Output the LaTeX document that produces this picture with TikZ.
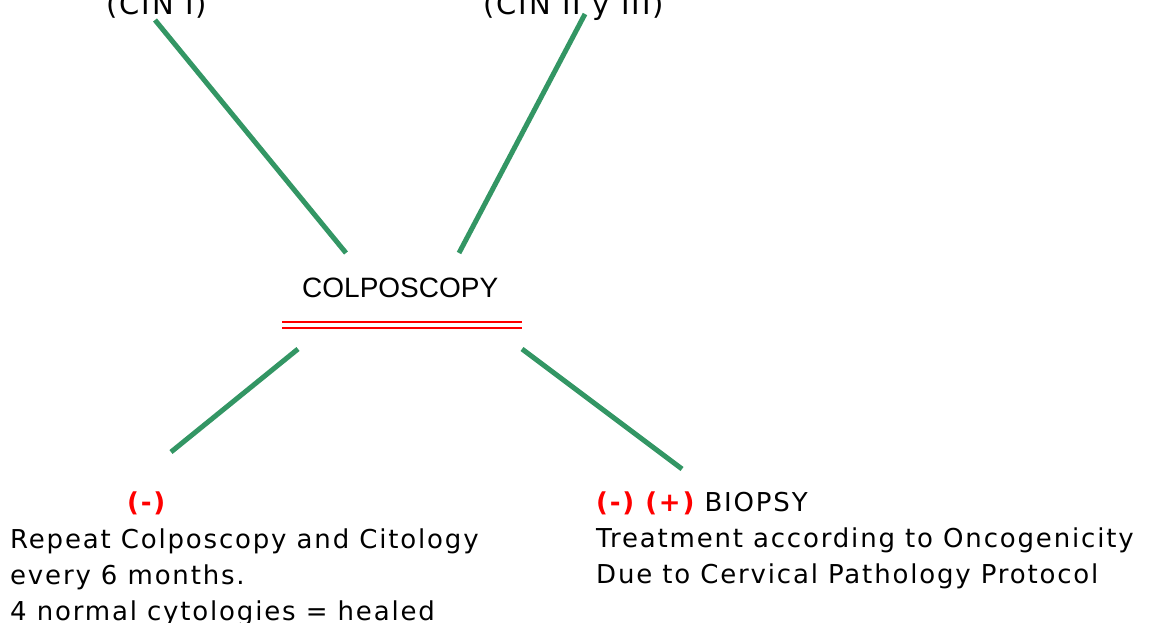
\documentclass[tikz,border=0pt]{standalone}
\usepackage{fontspec}
\setmainfont{DejaVu Sans}[LetterSpace=7]
\newfontfamily\arialfont{Liberation Sans}
\definecolor{branch}{RGB}{51,150,100}
\definecolor{signred}{RGB}{255,0,0}
\begin{document}
\begin{tikzpicture}[x=1pt,y=-1pt,
  branchline/.style={draw=branch,line width=5pt},
  txt/.style={inner sep=0pt,anchor=base west,font=\fontsize{26}{36}\selectfont,align=left},
  sign/.style={text=signred,font=\fontsize{26}{36}\selectfont\bfseries},
  underline/.style={draw=signred,line width=2pt},
  toplabel/.style={inner sep=0pt,anchor=base west,font=\fontsize{29}{34}\selectfont},
  head/.style={inner sep=0pt,anchor=base west,font=\arialfont\fontsize{28}{34}\selectfont}]
  \useasboundingbox (0,0) rectangle (1150,623);

  % top labels (partly above the page edge)
  \node[toplabel] (cin1) at (106,15) {(CIN I)};
  \node[toplabel] (cin23) at (483,15) {(CIN II y III)};

  % central node with double underline
  \node[head] (colpo) at (302,297) {COLPOSCOPY};
  \coordinate (u1) at (282,322.3); \coordinate (u2) at (522,322.3);
  \coordinate (v1) at (282,328.3); \coordinate (v2) at (522,328.3);
  \draw[underline] (u1) -- (u2);
  \draw[underline] (v1) -- (v2);

  % branch lines
  \coordinate (a1) at (155,20);  \coordinate (a2) at (346,253);
  \coordinate (b1) at (585,14);  \coordinate (b2) at (459,253);
  \coordinate (c1) at (298,349); \coordinate (c2) at (171,452);
  \coordinate (d1) at (522,349); \coordinate (d2) at (682,469);
  \draw[branchline] (a1) -- (a2);
  \draw[branchline] (b1) -- (b2);
  \draw[branchline] (c1) -- (c2);
  \draw[branchline] (d1) -- (d2);

  % lower left outcome (node base = baseline of its last line)
  \node[txt,sign] (neg) at (127,511) {(-)};
  \node[txt] (left) at (10,620) {Repeat Colposcopy and Citology\\every 6 months.\\4 normal cytologies = healed};

  % lower right outcome
  \node[txt] (right) at (596,583) {{\color{signred}\bfseries (-) (+)} BIOPSY\\Treatment according to Oncogenicity\\Due to Cervical Pathology Protocol};
\end{tikzpicture}
\end{document}
